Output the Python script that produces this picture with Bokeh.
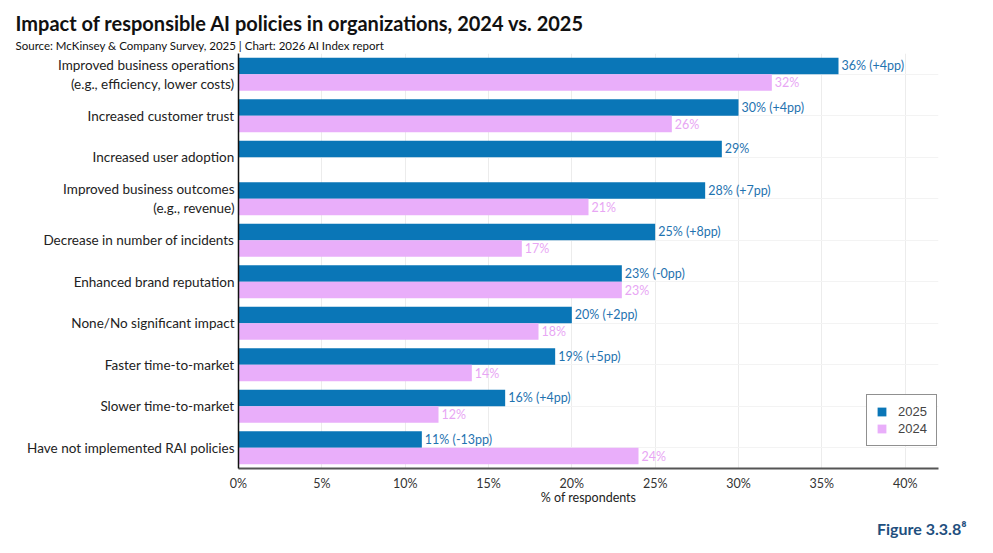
from bokeh.plotting import figure
from bokeh.models import (ColumnDataSource, Legend, LegendItem, Title,
                          FactorRange, FixedTicker, CustomJSTickFormatter)
from bokeh.core.properties import value
from bokeh.transform import dodge
from bokeh.embed import file_html
from bokeh.resources import INLINE

# Survey outcomes, top to bottom
categories = [
    "Improved business operations\n(e.g., efficiency, lower costs)",
    "Increased customer trust",
    "Increased user adoption",
    "Improved business outcomes\n(e.g., revenue)",
    "Decrease in number of incidents",
    "Enhanced brand reputation",
    "None/No significant impact",
    "Faster time-to-market",
    "Slower time-to-market",
    "Have not implemented RAI policies",
]
values_2025 = [36, 30, 29, 28, 25, 23, 20, 19, 16, 11]
values_2024 = [32, 26, None, 21, 17, 23, 18, 14, 12, 24]
change_pp = ["+4pp", "+4pp", None, "+7pp", "+8pp", "-0pp", "+2pp", "+5pp", "+4pp", "-13pp"]
x_ticks = [0, 5, 10, 15, 20, 25, 30, 35, 40]

FONT = "Lato"
BLUE = "#0a76b7"
PINK = "#e9aefa"
BLUE_TXT = "#1f73b0"
PINK_TXT = "#e8a6f4"

labels_2025 = [f"{v}% ({d})" if d else f"{v}%" for v, d in zip(values_2025, change_pp)]

src25 = ColumnDataSource(dict(cat=categories, val=values_2025, lab=labels_2025))
rows24 = [(c, v) for c, v in zip(categories, values_2024) if v is not None]
src24 = ColumnDataSource(dict(cat=[r[0] for r in rows24],
                              val=[r[1] for r in rows24],
                              lab=[f"{r[1]}%" for r in rows24]))

p = figure(width=993, height=553, output_backend="svg", toolbar_location=None,
           y_range=FactorRange(*categories[::-1]), x_range=(0, 42),
           min_border_left=238, min_border_right=55, min_border_top=53,
           min_border_bottom=85, outline_line_color=None)
p.background_fill_color = "white"

r25 = p.hbar(y=dodge("cat", 0.2, range=p.y_range), right="val", left=0, height=0.4,
             source=src25, color=BLUE, line_color=None)
r24 = p.hbar(y=dodge("cat", -0.2, range=p.y_range), right="val", left=0, height=0.4,
             source=src24, color=PINK, line_color=None)

p.text(x="val", y=dodge("cat", 0.2, range=p.y_range), text="lab", source=src25,
       x_offset=3, text_baseline="middle", text_font=value(FONT),
       text_font_size="12.5px", text_color=BLUE_TXT)
p.text(x="val", y=dodge("cat", -0.2, range=p.y_range), text="lab", source=src24,
       x_offset=3, text_baseline="middle", text_font=value(FONT),
       text_font_size="12.5px", text_color=PINK_TXT)

# axes
p.xaxis.ticker = FixedTicker(ticks=x_ticks)
p.xaxis.formatter = CustomJSTickFormatter(code="return tick + '%';")
p.xaxis.axis_label = "% of respondents"
p.xaxis.axis_label_text_font = FONT
p.xaxis.axis_label_text_font_style = "normal"
p.xaxis.axis_label_text_font_size = "12.5px"
p.xaxis.axis_label_text_color = "#222222"
p.xaxis.axis_label_standoff = -4
p.xaxis.major_label_text_font = FONT
p.xaxis.major_label_text_font_size = "12.5px"
p.xaxis.major_label_text_color = "#333333"
p.xaxis.major_tick_line_color = None
p.xaxis.major_tick_out = 0
p.xaxis.minor_tick_line_color = None
p.xaxis.minor_tick_out = 0
p.xaxis.axis_line_color = "#555555"
p.xaxis.axis_line_width = 2
p.xaxis.major_label_standoff = 7

p.yaxis.major_label_text_font = FONT
p.yaxis.major_label_text_font_size = "13.5px"
p.yaxis.major_label_text_color = "#222222"
p.yaxis.major_tick_line_color = None
p.yaxis.major_tick_out = 0
p.yaxis.axis_line_color = "#111111"
p.yaxis.axis_line_width = 1.5
p.yaxis.major_label_standoff = 4

p.xgrid.grid_line_color = "#ececec"
p.ygrid.grid_line_color = "#f3f3f3"

legend = Legend(items=[LegendItem(label="2025", renderers=[r25]),
                       LegendItem(label="2024", renderers=[r24])],
                location=(628, 22), border_line_color="#222222", border_line_width=1.5,
                label_text_font="Liberation Sans", label_text_font_size="13px",
                glyph_width=11, glyph_height=11, label_height=14,
                spacing=2, padding=9, margin=0, label_standoff=11)
p.add_layout(legend)

# headings (closest to the plot first) and figure number
p.add_layout(Title(text="Source: McKinsey & Company Survey, 2025 | Chart: 2026 AI Index report",
                   text_font=FONT, text_font_size="11.5px", text_font_style="normal",
                   text_color="#111111", align="left", offset=-223, standoff=4), "above")
p.add_layout(Title(text="Impact of responsible AI policies in organizations, 2024 vs. 2025",
                   text_font=FONT, text_font_size="20px", text_font_style="bold",
                   text_color="#111111", align="left", offset=-223, standoff=0), "above")
p.add_layout(Title(text="Figure 3.3.8\u2078",
                   text_font=FONT, text_font_size="16px", text_font_style="bold",
                   text_color="#1f4f7e", align="right", offset=-28, standoff=18), "below")

open("out.html", "w").write(file_html(p, INLINE))
